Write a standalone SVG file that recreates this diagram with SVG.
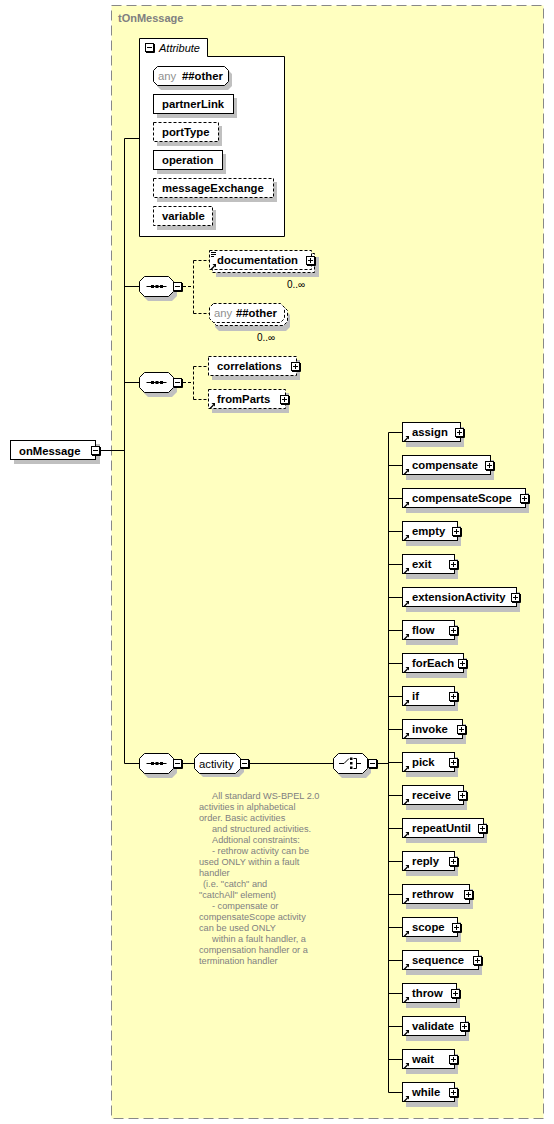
<svg xmlns="http://www.w3.org/2000/svg" xmlns:xlink="http://www.w3.org/1999/xlink" width="554" height="1124" viewBox="0 0 554 1124">
<style>
.bg{fill:#ffffc0;stroke:#888;stroke-dasharray:10,5}
.box{fill:#fff;stroke:#000;stroke-width:1}
.opt{fill:#fff;stroke:#000;stroke-width:1;stroke-dasharray:3,2}
.sh{fill:#c0c0c0;stroke:none}
.ln{stroke:#000;stroke-width:1;fill:none}
.dln{stroke:#000;stroke-width:1;fill:none;stroke-dasharray:3,2}
.t{font-family:"Liberation Sans",Arial,sans-serif;font-size:11.3px;font-weight:bold;fill:#000}
.r{font-family:"Liberation Sans",Arial,sans-serif;font-size:11.3px;fill:#000}
.g{font-family:"Liberation Sans",Arial,sans-serif;font-size:11.3px;fill:#909090}
.m{font-family:"Liberation Sans",Arial,sans-serif;font-size:10px;fill:#000}
.note{font-family:"Liberation Sans",Arial,sans-serif;font-size:9.2px;fill:#808080}
.title{font-family:"Liberation Sans",Arial,sans-serif;font-size:11px;font-weight:bold;fill:#808080}
</style>
<defs>
<g id="plus"><rect x="0.5" y="0.5" width="8" height="8" fill="#fff" stroke="#000"/><path d="M9.5,1 V9.5 H1" stroke="#000" fill="none"/><path d="M2,4.5 H7 M4.5,2 V7" stroke="#000" fill="none"/></g>
<g id="minus"><rect x="0.5" y="0.5" width="8" height="8" fill="#fff" stroke="#000"/><path d="M9.5,1 V9.5 H1" stroke="#000" fill="none"/><path d="M2,4.5 H7" stroke="#000" fill="none"/></g>
<g id="arr"><path d="M0.5,5.5 L4,2" stroke="#000" stroke-width="1.3" fill="none"/><path d="M2,0 H5.5 V3.5 Z" fill="#000"/></g>
<g id="oct"><path class="sh" d="M9,4 H33 L38,9 V20 L33,25 H9 L4,20 V9 Z"/><path class="box" d="M5.5,0.5 H29.5 L34.5,5.5 V15.5 L29.5,20.5 H5.5 L0.5,15.5 V5.5 Z"/></g>
<g id="seq"><use xlink:href="#oct"/><path d="M7.5,10.5 H27.5" stroke="#000" fill="none"/><rect x="12" y="9" width="3" height="3" fill="#000"/><rect x="16.5" y="9" width="3" height="3" fill="#000"/><rect x="21" y="9" width="3" height="3" fill="#000"/></g>
</defs>

<rect class="bg" x="111.5" y="5.5" width="432" height="1113"/>
<text class="title" x="118" y="22">tOnMessage</text>

<g id="connectors">
<path class="ln" d="M101,450.5 H124.5 M124.5,138.5 V763.5 M124.5,138.5 H139 M124.5,286.5 H139 M124.5,382.5 H139 M124.5,763.5 H139"/>
<path class="dln" d="M183,286.5 H193.5 M193.5,260.5 V313.5 M193.5,260.5 H209 M193.5,313.5 H209"/>
<path class="dln" d="M183,382.5 H193.5 M193.5,366.5 V399.5 M193.5,366.5 H208 M193.5,399.5 H208"/>
<path class="ln" d="M183,763.5 H195 M250,763.5 H333 M378,763.5 H388.5 M388.5,432.5 V1092.5"/>
<path class="ln" d="M388.5,432.5 H402 M388.5,465.5 H402 M388.5,498.5 H402 M388.5,531.5 H402 M388.5,564.5 H402 M388.5,597.5 H402 M388.5,630.5 H402 M388.5,663.5 H402 M388.5,696.5 H402 M388.5,729.5 H402 M388.5,762.5 H402 M388.5,795.5 H402 M388.5,828.5 H402 M388.5,861.5 H402 M388.5,894.5 H402 M388.5,927.5 H402 M388.5,960.5 H402 M388.5,993.5 H402 M388.5,1026.5 H402 M388.5,1059.5 H402 M388.5,1092.5 H402"/>
</g>

<g id="onMessage">
<rect class="sh" x="14" y="444" width="86" height="20"/>
<rect class="box" x="10.5" y="440.5" width="85" height="19"/>
<text class="t" x="19" y="454.5">onMessage</text>
<use xlink:href="#minus" x="91" y="446"/>
</g>

<g id="attributes">
<path class="box" d="M139.5,236.5 V38.5 H207.5 V56.5 H284.5 V236.5 Z"/>
<use xlink:href="#minus" x="145" y="43"/>
<text x="159" y="52" style="font-family:'Liberation Sans',Arial,sans-serif;font-size:11px;font-style:italic;fill:#000">Attribute</text>
</g>
<g id="attr-any">
<path class="sh" d="M161,70 H228 L232,74 V86 L228,90 H161 L157,86 V74 Z"/>
<path class="box" d="M157.5,66.5 H224.5 L228.5,70.5 V81.5 L224.5,85.5 H157.5 L153.5,81.5 V70.5 Z"/>
<text class="g" x="158" y="80">any</text><text class="t" x="182" y="80">##other</text>
</g>
<g id="attr-partnerLink">
<rect class="sh" x="157" y="98" width="80" height="20"/>
<rect class="box" x="153.5" y="94.5" width="80" height="19"/>
<text class="t" x="162" y="108">partnerLink</text>
</g>
<g id="attr-portType">
<rect class="sh" x="157" y="126" width="65" height="20"/>
<rect class="opt" x="153.5" y="122.5" width="65" height="19"/>
<text class="t" x="162" y="136">portType</text>
</g>
<g id="attr-operation">
<rect class="sh" x="157" y="154" width="69" height="20"/>
<rect class="box" x="153.5" y="150.5" width="69" height="19"/>
<text class="t" x="162" y="164">operation</text>
</g>
<g id="attr-messageExchange">
<rect class="sh" x="157" y="182" width="120" height="20"/>
<rect class="opt" x="153.5" y="178.5" width="120" height="19"/>
<text class="t" x="162" y="192">messageExchange</text>
</g>
<g id="attr-variable">
<rect class="sh" x="157" y="210" width="59" height="20"/>
<rect class="opt" x="153.5" y="206.5" width="59" height="19"/>
<text class="t" x="162" y="220">variable</text>
</g>

<g id="seq1"><use xlink:href="#seq" x="139" y="276"/><use xlink:href="#minus" x="173" y="282"/></g>
<g id="documentation">
<rect class="sh" x="216" y="257" width="103" height="20"/>
<rect class="opt" x="212.5" y="253.5" width="102" height="19"/>
<rect class="opt" x="209.5" y="250.5" width="102" height="19"/>
<path d="M211,252.5 H216 M211,254.5 H216 M211,256.5 H214" stroke="#000" fill="none"/>
<use xlink:href="#arr" x="210.5" y="264"/>
<text class="t" x="217" y="264">documentation</text>
<use xlink:href="#plus" x="306" y="256"/>
<text class="m" x="287" y="288">0..∞</text>
</g>
<g id="any-other">
<path class="sh" d="M219,311 H286 L290,315 V327 L286,331 H219 L215,327 V315 Z"/>
<path class="opt" d="M216.5,306.5 H283.5 L287.5,310.5 V321.5 L283.5,325.5 H216.5 L212.5,321.5 V310.5 Z"/>
<path class="opt" d="M213.5,303.5 H280.5 L284.5,307.5 V318.5 L280.5,322.5 H213.5 L209.5,318.5 V307.5 Z"/>
<text class="g" x="214" y="317">any</text><text class="t" x="236" y="317">##other</text>
<text class="m" x="257" y="341">0..∞</text>
</g>

<g id="seq2"><use xlink:href="#seq" x="139" y="372"/><use xlink:href="#minus" x="173" y="378"/></g>
<g id="correlations">
<rect class="sh" x="212" y="360" width="88" height="20"/>
<rect class="opt" x="208.5" y="356.5" width="88" height="19"/>
<text class="t" x="217" y="370">correlations</text>
<use xlink:href="#plus" x="291" y="362"/>
</g>
<g id="fromParts">
<rect class="sh" x="212" y="393" width="77" height="20"/>
<rect class="opt" x="208.5" y="389.5" width="77" height="19"/>
<use xlink:href="#arr" x="209.5" y="403"/>
<text class="t" x="217" y="403">fromParts</text>
<use xlink:href="#plus" x="280" y="395"/>
</g>

<g id="seq3"><use xlink:href="#seq" x="139" y="753"/><use xlink:href="#minus" x="173" y="759"/></g>
<g id="activity">
<path class="sh" d="M203,757 H239 L244,762 V772 L239,777 H203 L198,772 V762 Z"/>
<path class="box" d="M199.5,753.5 H235.5 L240.5,758.5 V768.5 L235.5,773.5 H199.5 L194.5,768.5 V758.5 Z"/>
<text class="r" x="199" y="767.5">activity</text>
<use xlink:href="#minus" x="240" y="759"/>
</g>
<g id="choice">
<use xlink:href="#oct" x="333" y="753"/>
<path d="M339,763.5 H344 L349,758.5" stroke="#000" fill="none"/>
<rect x="350" y="757.5" width="2.5" height="2.5" fill="#000"/>
<rect x="350" y="762" width="2.5" height="2.5" fill="#000"/>
<rect x="350" y="766.5" width="2.5" height="2.5" fill="#000"/>
<path d="M353.5,758.5 H356.5 V768.5 H353.5 M356.5,763.5 H361" stroke="#000" fill="none"/>
<use xlink:href="#minus" x="368" y="759"/>
</g>

<g id="annotation" class="note">
<text x="212" y="799">All standard WS-BPEL 2.0</text>
<text x="199" y="810">activities in alphabetical</text>
<text x="199" y="821">order. Basic activities</text>
<text x="212" y="832">and structured activities.</text>
<text x="212" y="843">Addtional constraints:</text>
<text x="212" y="854">- rethrow activity can be</text>
<text x="199" y="865">used ONLY within a fault</text>
<text x="199" y="876">handler</text>
<text x="203" y="887">(i.e. "catch" and</text>
<text x="199" y="898">"catchAll" element)</text>
<text x="212" y="909">- compensate or</text>
<text x="199" y="920">compensateScope activity</text>
<text x="199" y="931">can be used ONLY</text>
<text x="212" y="942">within a fault handler, a</text>
<text x="199" y="953">compensation handler or a</text>
<text x="199" y="964">termination handler</text>
</g>

<g id="el-assign"><rect class="sh" x="406" y="427" width="58" height="20"/><rect class="box" x="402.5" y="422.5" width="58" height="19"/><use xlink:href="#arr" x="403.5" y="436"/><text class="t" x="412" y="436">assign</text><use xlink:href="#plus" x="455" y="428"/></g>
<g id="el-compensate"><rect class="sh" x="406" y="460" width="88" height="20"/><rect class="box" x="402.5" y="455.5" width="88" height="19"/><use xlink:href="#arr" x="403.5" y="469"/><text class="t" x="412" y="469">compensate</text><use xlink:href="#plus" x="485" y="461"/></g>
<g id="el-compensateScope"><rect class="sh" x="406" y="493" width="123" height="20"/><rect class="box" x="402.5" y="488.5" width="123" height="19"/><use xlink:href="#arr" x="403.5" y="502"/><text class="t" x="412" y="502">compensateScope</text><use xlink:href="#plus" x="520" y="494"/></g>
<g id="el-empty"><rect class="sh" x="406" y="526" width="55" height="20"/><rect class="box" x="402.5" y="521.5" width="55" height="19"/><use xlink:href="#arr" x="403.5" y="535"/><text class="t" x="412" y="535">empty</text><use xlink:href="#plus" x="452" y="527"/></g>
<g id="el-exit"><rect class="sh" x="406" y="559" width="52" height="20"/><rect class="box" x="402.5" y="554.5" width="52" height="19"/><use xlink:href="#arr" x="403.5" y="568"/><text class="t" x="412" y="568">exit</text><use xlink:href="#plus" x="449" y="560"/></g>
<g id="el-extensionActivity"><rect class="sh" x="406" y="592" width="114" height="20"/><rect class="box" x="402.5" y="587.5" width="114" height="19"/><use xlink:href="#arr" x="403.5" y="601"/><text class="t" x="412" y="601">extensionActivity</text><use xlink:href="#plus" x="511" y="593"/></g>
<g id="el-flow"><rect class="sh" x="406" y="625" width="52" height="20"/><rect class="box" x="402.5" y="620.5" width="52" height="19"/><use xlink:href="#arr" x="403.5" y="634"/><text class="t" x="412" y="634">flow</text><use xlink:href="#plus" x="449" y="626"/></g>
<g id="el-forEach"><rect class="sh" x="406" y="658" width="61" height="20"/><rect class="box" x="402.5" y="653.5" width="61" height="19"/><use xlink:href="#arr" x="403.5" y="667"/><text class="t" x="412" y="667">forEach</text><use xlink:href="#plus" x="458" y="659"/></g>
<g id="el-if"><rect class="sh" x="406" y="691" width="52" height="20"/><rect class="box" x="402.5" y="686.5" width="52" height="19"/><use xlink:href="#arr" x="403.5" y="700"/><text class="t" x="412" y="700">if</text><use xlink:href="#plus" x="449" y="692"/></g>
<g id="el-invoke"><rect class="sh" x="406" y="724" width="60" height="20"/><rect class="box" x="402.5" y="719.5" width="60" height="19"/><use xlink:href="#arr" x="403.5" y="733"/><text class="t" x="412" y="733">invoke</text><use xlink:href="#plus" x="457" y="725"/></g>
<g id="el-pick"><rect class="sh" x="406" y="757" width="52" height="20"/><rect class="box" x="402.5" y="752.5" width="52" height="19"/><use xlink:href="#arr" x="403.5" y="766"/><text class="t" x="412" y="766">pick</text><use xlink:href="#plus" x="449" y="758"/></g>
<g id="el-receive"><rect class="sh" x="406" y="790" width="61" height="20"/><rect class="box" x="402.5" y="785.5" width="61" height="19"/><use xlink:href="#arr" x="403.5" y="799"/><text class="t" x="412" y="799">receive</text><use xlink:href="#plus" x="458" y="791"/></g>
<g id="el-repeatUntil"><rect class="sh" x="406" y="823" width="81" height="20"/><rect class="box" x="402.5" y="818.5" width="81" height="19"/><use xlink:href="#arr" x="403.5" y="832"/><text class="t" x="412" y="832">repeatUntil</text><use xlink:href="#plus" x="478" y="824"/></g>
<g id="el-reply"><rect class="sh" x="406" y="856" width="52" height="20"/><rect class="box" x="402.5" y="851.5" width="52" height="19"/><use xlink:href="#arr" x="403.5" y="865"/><text class="t" x="412" y="865">reply</text><use xlink:href="#plus" x="449" y="857"/></g>
<g id="el-rethrow"><rect class="sh" x="406" y="889" width="67" height="20"/><rect class="box" x="402.5" y="884.5" width="67" height="19"/><use xlink:href="#arr" x="403.5" y="898"/><text class="t" x="412" y="898">rethrow</text><use xlink:href="#plus" x="464" y="890"/></g>
<g id="el-scope"><rect class="sh" x="406" y="922" width="55" height="20"/><rect class="box" x="402.5" y="917.5" width="55" height="19"/><use xlink:href="#arr" x="403.5" y="931"/><text class="t" x="412" y="931">scope</text><use xlink:href="#plus" x="452" y="923"/></g>
<g id="el-sequence"><rect class="sh" x="406" y="955" width="76" height="20"/><rect class="box" x="402.5" y="950.5" width="76" height="19"/><use xlink:href="#arr" x="403.5" y="964"/><text class="t" x="412" y="964">sequence</text><use xlink:href="#plus" x="473" y="956"/></g>
<g id="el-throw"><rect class="sh" x="406" y="988" width="54" height="20"/><rect class="box" x="402.5" y="983.5" width="54" height="19"/><use xlink:href="#arr" x="403.5" y="997"/><text class="t" x="412" y="997">throw</text><use xlink:href="#plus" x="451" y="989"/></g>
<g id="el-validate"><rect class="sh" x="406" y="1021" width="63" height="20"/><rect class="box" x="402.5" y="1016.5" width="63" height="19"/><use xlink:href="#arr" x="403.5" y="1030"/><text class="t" x="412" y="1030">validate</text><use xlink:href="#plus" x="460" y="1022"/></g>
<g id="el-wait"><rect class="sh" x="406" y="1054" width="52" height="20"/><rect class="box" x="402.5" y="1049.5" width="52" height="19"/><use xlink:href="#arr" x="403.5" y="1063"/><text class="t" x="412" y="1063">wait</text><use xlink:href="#plus" x="449" y="1055"/></g>
<g id="el-while"><rect class="sh" x="406" y="1087" width="52" height="20"/><rect class="box" x="402.5" y="1082.5" width="52" height="19"/><use xlink:href="#arr" x="403.5" y="1096"/><text class="t" x="412" y="1096">while</text><use xlink:href="#plus" x="449" y="1088"/></g>
</svg>
